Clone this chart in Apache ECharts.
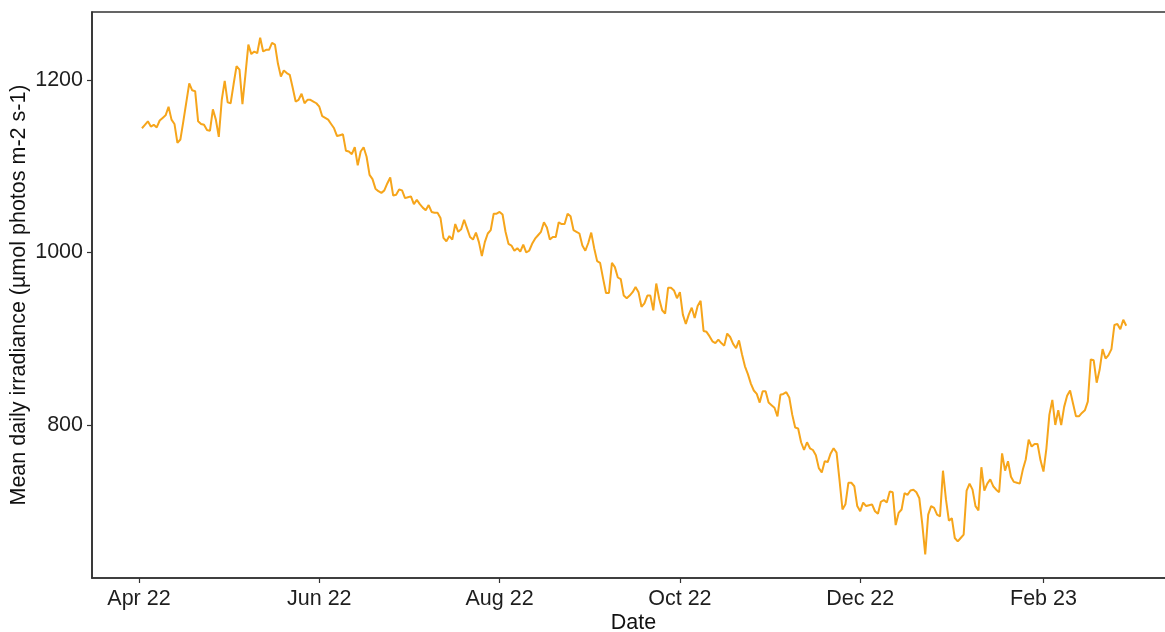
<!DOCTYPE html>
<html>
<head>
<meta charset="utf-8">
<script src="https://cdn.jsdelivr.net/npm/echarts@6/dist/echarts.min.js"></script>
<style>
  html, body { margin: 0; padding: 0; background: #ffffff; }
  #chart { width: 1165px; height: 632px; }
</style>
</head>
<body>
<div id="chart"></div>
<script>
// Daily series starts on this date (one value per day)
const startDate = '2022-04-02';

// Mean daily irradiance, µmol photos m-2 s-1, one value per day from startDate
const irradiance = [
  1144, 1148, 1152, 1146, 1148, 1145, 1153, 1156, 1159, 1169,
  1154, 1149, 1127, 1131, 1152, 1174, 1196, 1188, 1187, 1152,
  1149, 1148, 1142, 1141, 1166, 1154, 1134, 1177, 1199, 1174,
  1173, 1195, 1216, 1212, 1172, 1206, 1241, 1230, 1233, 1231,
  1249, 1233, 1235, 1235, 1243, 1241, 1219, 1204, 1211, 1208,
  1206, 1191, 1175, 1177, 1184, 1173, 1177, 1177, 1175, 1173,
  1169, 1158, 1156, 1154, 1149, 1144, 1135, 1136, 1137, 1118,
  1117, 1114, 1122, 1101, 1117, 1122, 1111, 1090, 1085, 1074,
  1071, 1069, 1072, 1080, 1087, 1066, 1067, 1073, 1072, 1063,
  1064, 1065, 1056, 1061, 1056, 1052, 1049, 1055, 1047, 1046,
  1046, 1040, 1017, 1013, 1019, 1015, 1033, 1024, 1027, 1038,
  1028, 1018, 1015, 1023, 1012, 996, 1012, 1022, 1026, 1045,
  1045, 1047, 1044, 1024, 1010, 1008, 1002, 1005, 1001, 1009,
  1000, 1002, 1010, 1016, 1020, 1024, 1035, 1029, 1015, 1018,
  1018, 1035, 1033, 1033, 1045, 1042, 1026, 1024, 1022, 1008,
  1002, 1011, 1023, 1005, 990, 988, 970, 953, 953, 988,
  983, 971, 969, 950, 947, 950, 954, 960, 954, 937,
  941, 950, 950, 933, 964, 946, 933, 929, 959, 959,
  956, 947, 954, 928, 917, 928, 936, 924, 938, 944,
  909, 908, 903, 897, 895, 899, 895, 892, 906, 902,
  894, 889, 898, 882, 868, 859, 848, 840, 836, 826,
  839, 839, 826, 823, 820, 810, 835, 836, 838, 832,
  812, 797, 796, 780, 771, 780, 773, 771, 765, 750,
  745, 758, 757, 767, 773, 768, 736, 702, 708, 733,
  733, 729, 706, 700, 710, 706, 707, 708, 700, 697,
  711, 713, 710, 723, 722, 684, 698, 702, 721, 719,
  724, 725, 722, 715, 685, 650, 696, 706, 704, 696,
  694, 747, 714, 689, 692, 669, 665, 669, 673, 724,
  732, 725, 706, 701, 751, 724, 732, 737, 729, 725,
  722, 767, 747, 758, 740, 734, 733, 732, 748, 760,
  783, 775, 778, 778, 759, 746, 773, 812, 829, 800,
  817, 800, 821, 834, 840, 825, 810, 810, 814, 817,
  827, 876, 875, 849, 864, 888, 877, 881, 888, 916,
  917, 911, 922, 915
];

// Date axis ticks (first of every second month)
const dateTicks = ['2022-04-01', '2022-06-01', '2022-08-01', '2022-10-01', '2022-12-01', '2023-02-01'];
// Value axis ticks
const valueTicks = [800, 1000, 1200];

// The date axis is laid out in days counted from 1 April 2022
const DAY = 86400000;
const monthNames = ['Jan', 'Feb', 'Mar', 'Apr', 'May', 'Jun', 'Jul', 'Aug', 'Sep', 'Oct', 'Nov', 'Dec'];
const t0 = Date.UTC(2022, 3, 1);
const toDay = s => (new Date(s + 'T00:00:00Z').getTime() - t0) / DAY;
const firstDay = toDay(startDate);
const seriesData = irradiance.map((v, i) => [firstDay + i, v]);
const tickDays = dateTicks.map(toDay);

function fmtDay(d) {
  const dt = new Date(t0 + Math.round(d) * DAY);
  return monthNames[dt.getUTCMonth()] + ' ' + String(dt.getUTCFullYear() % 100).padStart(2, '0');
}

const FONT = '"Liberation Sans", Arial, Helvetica, sans-serif';
const FS = 21.5;
const ink = '#333333';

const chart = echarts.init(document.getElementById('chart'), null, { renderer: 'canvas' });
chart.setOption({
  animation: false,
  backgroundColor: '#ffffff',
  textStyle: { fontFamily: FONT },
  grid: {
    left: 92, right: -10, top: 12, bottom: 54,
    show: true, borderColor: ink, borderWidth: 1.6, backgroundColor: 'transparent',
    containLabel: false,
    outerBoundsMode: 'none'
  },
  xAxis: {
    type: 'value',
    min: -15.9,
    max: 350.5,
    name: 'Date',
    nameLocation: 'middle',
    nameGap: 34,
    nameMoveOverlap: false,
    nameTextStyle: { fontSize: FS, color: '#111', fontFamily: FONT },
    axisLine: { show: true, onZero: false, lineStyle: { color: ink, width: 1.6 } },
    axisTick: { show: true, length: 5, inside: false, customValues: tickDays, lineStyle: { color: ink, width: 1.2 } },
    axisLabel: {
      customValues: tickDays,
      formatter: fmtDay,
      fontSize: FS, color: '#1e1e1e', margin: 10, fontFamily: FONT,
      hideOverlap: false, showMinLabel: true, showMaxLabel: true
    },
    splitLine: { show: false }
  },
  yAxis: {
    type: 'value',
    min: 622.6,
    max: 1278.8,
    name: 'Mean daily irradiance (µmol photos m-2 s-1)',
    nameLocation: 'middle',
    nameGap: 62,
    nameMoveOverlap: false,
    nameRotate: 90,
    nameTextStyle: { fontSize: FS, color: '#111', fontFamily: FONT },
    axisLine: { show: true, onZero: false, lineStyle: { color: ink, width: 1.6 } },
    axisTick: { show: true, length: 5, inside: false, customValues: valueTicks, lineStyle: { color: ink, width: 1.2 } },
    axisLabel: {
      customValues: valueTicks,
      formatter: v => String(v),
      fontSize: FS, color: '#1e1e1e', margin: 9, fontFamily: FONT,
      showMinLabel: true, showMaxLabel: true
    },
    splitLine: { show: false }
  },
  series: [{
    type: 'line',
    data: seriesData,
    showSymbol: false,
    symbol: 'none',
    smooth: false,
    lineStyle: { color: '#F6A51B', width: 2 },
    z: 3
  }]
});
</script>
</body>
</html>
